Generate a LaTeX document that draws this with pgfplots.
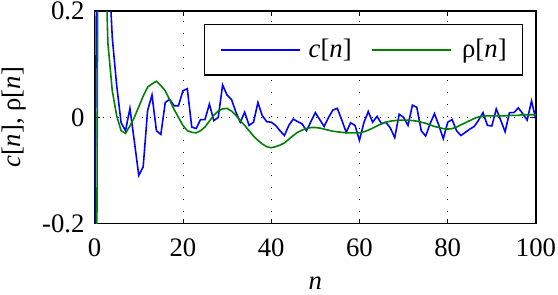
\documentclass[border=0pt]{standalone}
\usepackage{fontspec}
\setmainfont{Liberation Serif}
\usepackage{pgfplots}
\pgfplotsset{compat=1.18}
\definecolor{mblue}{RGB}{0,0,255}
\definecolor{mgreen}{RGB}{0,128,0}
\begin{document}
\fontsize{27}{32}\selectfont
\begin{tikzpicture}
\begin{axis}[
  scale only axis,
  width=446pt, height=215pt,
  xmin=0, xmax=100, ymin=-0.2, ymax=0.2,
  xtick={0,20,40,60,80,100},
  ytick={-0.2,0,0.2},
  yticklabels={-0.2,0,0.2},
  /pgf/number format/assume math mode=true,
  tick align=inside,
  major tick length=5pt,
  axis line style={line width=1.4pt},
  tick style={line width=0.8pt, black},
  xmajorgrids, ymajorgrids,
  major x grid style={black, line width=0.8pt, dash pattern=on 1pt off 11pt},
  major y grid style={black, line width=0.8pt, dash pattern=on 1pt off 7pt},
  xlabel={\textit{n}},
  ylabel={\textit{c}[\textit{n}], ρ[\textit{n}]},
  xlabel style={inner sep=5pt, yshift=-13pt},
  ylabel style={inner sep=2pt, yshift=12pt},
  xticklabel style={inner sep=2pt, yshift=-13pt},
  yticklabel style={inner sep=2pt, xshift=-8pt},
  legend columns=2,
  legend style={at={(0.971,0.9395)}, anchor=north east, draw=black, line width=1.4pt,
    inner xsep=16pt, inner ysep=14pt,
    nodes={inner sep=0pt},
    /tikz/column sep=0pt},
  legend image code/.code={\draw[#1] (0pt,0pt) -- (80pt,0pt);},
]
\addplot[mblue, line width=1.6pt] coordinates {
(0,-0.3) (1,1.0) (2,0.6) (3,0.32) (4,0.15) (5,0.06) (6,-0.01) (7,-0.025) (8,0.017) (9,-0.045)
(10,-0.109) (11,-0.093) (12,0.013) (13,0.042) (14,-0.025) (15,-0.032) (16,0.028) (17,0.034) (18,0.022) (19,0.022)
(20,0.05) (21,0.054) (22,-0.018) (23,-0.021) (24,-0.004) (25,-0.004) (26,0.025) (27,-0.006) (28,0.0) (29,0.061)
(30,0.042) (31,0.034) (32,0.01) (33,-0.009) (34,0.01) (35,-0.015) (36,-0.009) (37,0.028) (38,0.003) (39,-0.008)
(40,-0.009) (41,-0.015) (42,-0.025) (43,-0.034) (44,-0.015) (45,-0.003) (46,-0.008) (47,-0.012) (48,-0.025) (49,-0.008)
(50,0.009) (51,-0.004) (52,-0.017) (53,0.0) (54,0.014) (55,0.017) (56,-0.005) (57,-0.028) (58,-0.01) (59,-0.015)
(60,-0.043) (61,-0.01) (62,0.011) (63,-0.009) (64,0.002) (65,-0.012) (66,-0.009) (67,-0.02) (68,-0.038) (69,0.006)
(70,0.0) (71,-0.015) (72,0.023) (73,0.019) (74,-0.025) (75,-0.035) (76,-0.012) (77,0.007) (78,-0.015) (79,-0.04)
(80,-0.009) (81,-0.004) (82,-0.025) (83,-0.034) (84,-0.028) (85,-0.022) (86,-0.017) (87,-0.005) (88,0.009) (89,-0.015)
(90,-0.016) (91,0.016) (92,-0.005) (93,-0.027) (94,0.009) (95,0.009) (96,0.018) (97,0.007) (98,-0.005) (99,0.031)
(100,-0.005)
};
\addlegendentry{\kern8pt\textit{c}[\textit{n}]\kern20pt}
\addplot[mgreen, line width=1.6pt] coordinates {
(0,-1.5) (1,1.0) (2,0.45) (3,0.14) (4,0.05) (5,0.003) (6,-0.025) (7,-0.03) (8,-0.016) (9,0.0)
(10,0.02) (11,0.04) (12,0.057) (13,0.063) (14,0.068) (15,0.06) (16,0.05) (17,0.033) (18,0.015) (19,0.0)
(20,-0.015) (21,-0.025) (22,-0.028) (23,-0.029) (24,-0.025) (25,-0.018) (26,-0.007) (27,0.004) (28,0.012) (29,0.016)
(30,0.017) (31,0.012) (32,0.004) (33,-0.006) (34,-0.015) (35,-0.025) (36,-0.035) (37,-0.043) (38,-0.05) (39,-0.055)
(40,-0.057) (41,-0.055) (42,-0.052) (43,-0.048) (44,-0.041) (45,-0.034) (46,-0.028) (47,-0.024) (48,-0.021) (49,-0.019)
(50,-0.019) (51,-0.02) (52,-0.022) (53,-0.024) (54,-0.026) (55,-0.027) (56,-0.028) (57,-0.029) (58,-0.029) (59,-0.029)
(60,-0.029) (61,-0.027) (62,-0.024) (63,-0.02) (64,-0.016) (65,-0.012) (66,-0.009) (67,-0.007) (68,-0.006) (69,-0.005)
(70,-0.005) (71,-0.005) (72,-0.006) (73,-0.007) (74,-0.009) (75,-0.011) (76,-0.014) (77,-0.017) (78,-0.019) (79,-0.021)
(80,-0.022) (81,-0.021) (82,-0.018) (83,-0.014) (84,-0.01) (85,-0.006) (86,-0.002) (87,0.001) (88,0.002) (89,0.003)
(90,0.003) (91,0.003) (92,0.003) (93,0.003) (94,0.004) (95,0.004) (96,0.004) (97,0.005) (98,0.005) (99,0.005)
(100,0.005)
};
\addlegendentry{\kern10pt ρ[\textit{n}]}
\end{axis}
\end{tikzpicture}
\end{document}
